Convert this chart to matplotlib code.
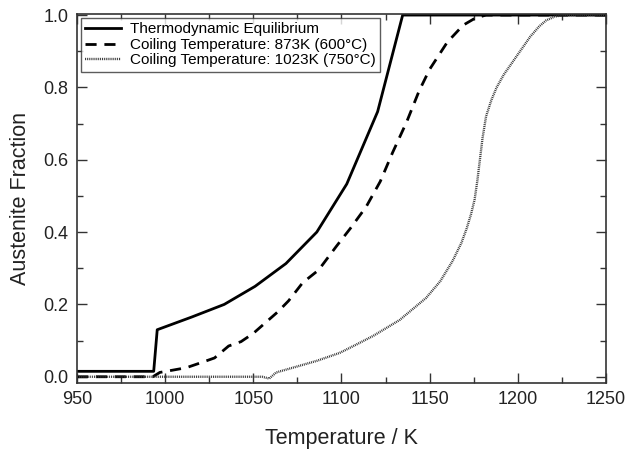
import matplotlib
matplotlib.use('Agg')
import matplotlib.pyplot as plt
from matplotlib.ticker import MultipleLocator

plt.rcParams['font.family'] = ['Liberation Sans', 'DejaVu Sans']

# thermodynamic equilibrium
eq_T = [950, 993.5, 995.5, 1015, 1033.5, 1051, 1068.5, 1086, 1103, 1120.5, 1134.7, 1250]
eq_f = [0.015, 0.015, 0.13, 0.165, 0.20, 0.25, 0.313, 0.40, 0.533, 0.733, 1.0, 1.0]

# coiling 873K
c600_T = [950, 993, 997, 1004, 1012, 1021, 1028, 1036, 1043, 1050, 1057, 1064, 1070, 1078,
          1087, 1097, 1105, 1114, 1122, 1129, 1137, 1144, 1150, 1160, 1169, 1176, 1182, 1250]
c600_f = [0.0, 0.0, 0.012, 0.018, 0.025, 0.04, 0.052, 0.085, 0.097, 0.12, 0.15, 0.18, 0.21, 0.26,
          0.295, 0.36, 0.41, 0.47, 0.54, 0.62, 0.705, 0.79, 0.85, 0.925, 0.972, 0.992, 1.0, 1.0]

# coiling 1023K
c750_T = [950, 1055, 1059, 1063, 1076, 1086, 1099, 1108, 1118, 1133, 1148, 1156, 1163, 1168,
          1171, 1173.5, 1175.5, 1177, 1178.5, 1180, 1182, 1185, 1188, 1192, 1197, 1202, 1207,
          1212, 1216, 1221, 1226, 1250]
c750_f = [0.0, 0.0, -0.005, 0.012, 0.03, 0.044, 0.066, 0.088, 0.113, 0.157, 0.218, 0.264, 0.32, 0.37,
          0.41, 0.45, 0.49, 0.54, 0.60, 0.66, 0.72, 0.765, 0.80, 0.835, 0.87, 0.905, 0.94,
          0.968, 0.985, 0.996, 1.0, 1.0]

fig = plt.figure(figsize=(6.26, 4.51), dpi=100)
ax = fig.add_axes([0.123, 0.151, 0.845, 0.818])

ax.plot(eq_T, eq_f, color='black', lw=2.0, label='Thermodynamic Equilibrium')
ax.plot(c600_T, c600_f, color='black', lw=2.0, linestyle=(0, (4, 2.8)),
        label='Coiling Temperature: 873K (600°C)')
ax.plot(c750_T, c750_f, color='#333333', lw=1.7, linestyle=(0, (0.4, 0.4)),
        label='Coiling Temperature: 1023K (750°C)')

ax.set_xlim(950, 1250)
ax.set_ylim(-0.017, 1.003)
ax.xaxis.set_major_locator(MultipleLocator(50))
ax.xaxis.set_minor_locator(MultipleLocator(25))
ax.yaxis.set_major_locator(MultipleLocator(0.2))
ax.yaxis.set_minor_locator(MultipleLocator(0.1))
ax.yaxis.set_major_formatter(matplotlib.ticker.FormatStrFormatter('%.1f'))
ax.tick_params(which='both', direction='in', top=True, right=True, labelsize=13,
               color='#333333', width=1.0, labelcolor='#222222')
ax.tick_params(which='major', length=7, pad=6)
ax.tick_params(which='minor', length=4)
for s in ax.spines.values():
    s.set_color('#333333')
    s.set_linewidth(1.2)

ax.set_xlabel('Temperature / K', fontsize=15.5, labelpad=14, color='#222222')
ax.set_ylabel('Austenite Fraction', fontsize=15.5, labelpad=9, color='#222222')

leg = ax.legend(loc='upper left', fontsize=11, frameon=True, fancybox=False,
                borderaxespad=0.25, handlelength=2.3, borderpad=0.3, labelspacing=0.1,
                handletextpad=0.6)
leg.get_frame().set_edgecolor('#333333')
leg.get_frame().set_linewidth(1.0)

fig.savefig('out.png', dpi=100)
